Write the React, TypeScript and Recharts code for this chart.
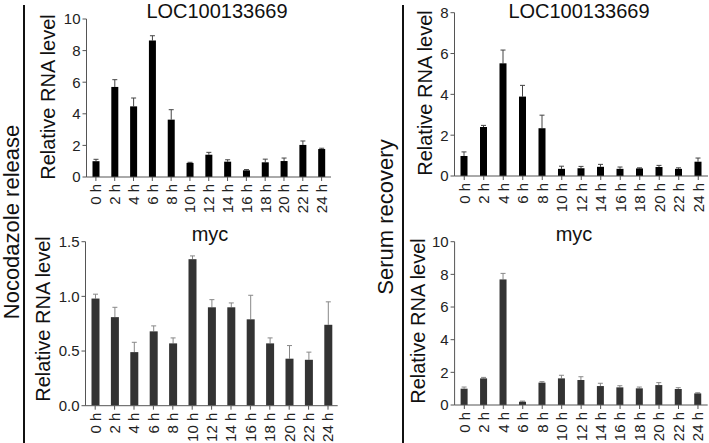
import React from 'react'
import { BarChart, Bar, XAxis, YAxis } from 'recharts'

const hours = ['0 h', '2 h', '4 h', '6 h', '8 h', '10 h', '12 h', '14 h', '16 h', '18 h', '20 h', '22 h', '24 h']

// Nocodazole release
const nocLocMean = [1.0, 5.7, 4.47, 8.64, 3.63, 0.89, 1.41, 0.97, 0.42, 0.93, 1.01, 2.03, 1.77]
const nocLocErr = [0.12, 0.46, 0.53, 0.3, 0.63, 0.04, 0.15, 0.12, 0.05, 0.2, 0.19, 0.25, 0.05]
const nocMycMean = [0.98, 0.81, 0.49, 0.68, 0.57, 1.34, 0.9, 0.9, 0.79, 0.57, 0.43, 0.42, 0.74]
const nocMycErr = [0.04, 0.09, 0.09, 0.05, 0.05, 0.03, 0.07, 0.04, 0.22, 0.05, 0.12, 0.07, 0.21]

// Serum recovery
const serLocMean = [0.98, 2.4, 5.52, 3.89, 2.34, 0.35, 0.38, 0.45, 0.35, 0.37, 0.44, 0.35, 0.7]
const serLocErr = [0.2, 0.08, 0.65, 0.55, 0.64, 0.13, 0.09, 0.12, 0.09, 0.03, 0.08, 0.05, 0.18]
const serMycMean = [1.0, 1.63, 7.69, 0.2, 1.37, 1.63, 1.53, 1.16, 1.08, 1.02, 1.22, 0.98, 0.71]
const serMycErr = [0.1, 0.06, 0.37, 0.04, 0.06, 0.19, 0.2, 0.17, 0.1, 0.08, 0.15, 0.08, 0.04]

const FONT = '"Liberation Sans", Arial, Helvetica, sans-serif'

const rows = (mean: number[], err: number[]) =>
  hours.map((h, i) => ({ hour: h, mean: mean[i], sd: err[i] }))

function makeShape(fill: string, errColor: string) {
  return (props: any) => {
    const { x, y, width, height, payload, value } = props
    const v = Array.isArray(value) ? value[1] - value[0] : value
    const perUnit = v ? height / v : 0
    const top = y - payload.sd * perUnit
    const cx = x + width / 2
    return (
      <g>
        <line x1={cx} x2={cx} y1={y} y2={top} stroke={errColor} strokeWidth={1} />
        <line x1={cx - 2.5} x2={cx + 2.5} y1={top} y2={top} stroke={errColor} strokeWidth={1} />
        <rect x={x} y={y} width={width} height={height} fill={fill} />
      </g>
    )
  }
}

function HourTick(props: any) {
  const { x, y, payload } = props
  return (
    <text
      x={x}
      y={y + 1}
      transform={`rotate(-90, ${x}, ${y + 1})`}
      textAnchor="end"
      dy="0.36em"
      fontSize={15}
      fontFamily={FONT}
      fill="#222"
    >
      {payload.value}
    </text>
  )
}

interface PanelProps {
  left: number
  top: number
  width: number
  height: number
  margin: { top: number; right: number; bottom: number; left: number }
  yWidth: number
  xHeight: number
  domain: [number, number]
  ticks: number[]
  decimals?: number
  mean: number[]
  err: number[]
  fill: string
  errColor: string
  barSize: number
}

function Panel(p: PanelProps) {
  return (
    <div style={{ position: 'absolute', left: p.left, top: p.top }}>
      <BarChart width={p.width} height={p.height} data={rows(p.mean, p.err)} margin={p.margin}>
        <XAxis
          dataKey="hour"
          interval={0}
          tick={<HourTick />}
          tickSize={4}
          height={p.xHeight}
          stroke="#555"
          axisLine={{ stroke: '#555' }}
          tickLine={{ stroke: '#555' }}
        />
        <YAxis
          width={p.yWidth}
          domain={p.domain}
          ticks={p.ticks}
          tickSize={4}
          tickMargin={2}
          allowDataOverflow
          tickFormatter={(v: number) => (p.decimals ? v.toFixed(p.decimals) : String(v))}
          tick={{ fontSize: 15, fontFamily: FONT, fill: '#222' }}
          axisLine={{ stroke: '#555' }}
          tickLine={{ stroke: '#555' }}
        />
        <Bar
          dataKey="mean"
          barSize={p.barSize}
          fill={p.fill}
          isAnimationActive={false}
          shape={makeShape(p.fill, p.errColor)}
        />
      </BarChart>
    </div>
  )
}

function Labels() {
  const t = { fontFamily: FONT, fill: '#111' }
  return (
    <svg
      width={709}
      height={443}
      style={{ position: 'absolute', left: 0, top: 0, pointerEvents: 'none' }}
    >
      <rect x={23} y={5} width={2} height={438} fill="#111" />
      <rect x={402} y={5} width={2} height={438} fill="#111" />
      <text {...t} fontSize={22} textAnchor="middle" transform="translate(19,222) rotate(-90)">
        Nocodazole release
      </text>
      <text {...t} fontSize={22} textAnchor="middle" transform="translate(393,217) rotate(-90)">
        Serum recovery
      </text>
      <text {...t} fontSize={20} textAnchor="middle" transform="translate(55,97) rotate(-90)">
        Relative RNA level
      </text>
      <text {...t} fontSize={20} textAnchor="middle" transform="translate(50,319) rotate(-90)">
        Relative RNA level
      </text>
      <text {...t} fontSize={20} textAnchor="middle" transform="translate(432,93) rotate(-90)">
        Relative RNA level
      </text>
      <text {...t} fontSize={20} textAnchor="middle" transform="translate(425,321) rotate(-90)">
        Relative RNA level
      </text>
      <text {...t} fontSize={20} textAnchor="middle" x={217} y={18}>
        LOC100133669
      </text>
      <text {...t} fontSize={20} textAnchor="middle" x={579} y={18}>
        LOC100133669
      </text>
      <text {...t} fontSize={20} textAnchor="middle" x={210} y={241}>
        myc
      </text>
      <text {...t} fontSize={20} textAnchor="middle" x={574} y={241}>
        myc
      </text>
    </svg>
  )
}

export default function App() {
  return (
    <div
      style={{
        position: 'absolute',
        left: 0,
        top: 0,
        width: 709,
        height: 443,
        background: '#fff',
        overflow: 'hidden',
      }}
    >
      <Panel
        left={0}
        top={0}
        width={340}
        height={220}
        margin={{ top: 19, right: 9, bottom: 0, left: 0 }}
        yWidth={86.5}
        xHeight={43}
        domain={[0, 10]}
        ticks={[0, 2, 4, 6, 8, 10]}
        mean={nocLocMean}
        err={nocLocErr}
        fill="#000"
        errColor="#444"
        barSize={7}
      />
      <Panel
        left={360}
        top={0}
        width={349}
        height={220}
        margin={{ top: 12.7, right: 1, bottom: 0, left: 0 }}
        yWidth={94.5}
        xHeight={44}
        domain={[0, 8]}
        ticks={[0, 2, 4, 6, 8]}
        mean={serLocMean}
        err={serLocErr}
        fill="#000"
        errColor="#444"
        barSize={7}
      />
      <Panel
        left={0}
        top={220}
        width={345}
        height={223}
        margin={{ top: 21.7, right: 7.3, bottom: 0, left: 0 }}
        yWidth={85.5}
        xHeight={37.3}
        domain={[0, 1.5]}
        ticks={[0, 0.5, 1, 1.5]}
        decimals={1}
        mean={nocMycMean}
        err={nocMycErr}
        fill="#333"
        errColor="#888"
        barSize={8}
      />
      <Panel
        left={360}
        top={220}
        width={349}
        height={223}
        margin={{ top: 21.7, right: 1.3, bottom: 0, left: 0 }}
        yWidth={94.6}
        xHeight={38}
        domain={[0, 10]}
        ticks={[0, 2, 4, 6, 8, 10]}
        mean={serMycMean}
        err={serMycErr}
        fill="#333"
        errColor="#888"
        barSize={7}
      />
      <Labels />
    </div>
  )
}
